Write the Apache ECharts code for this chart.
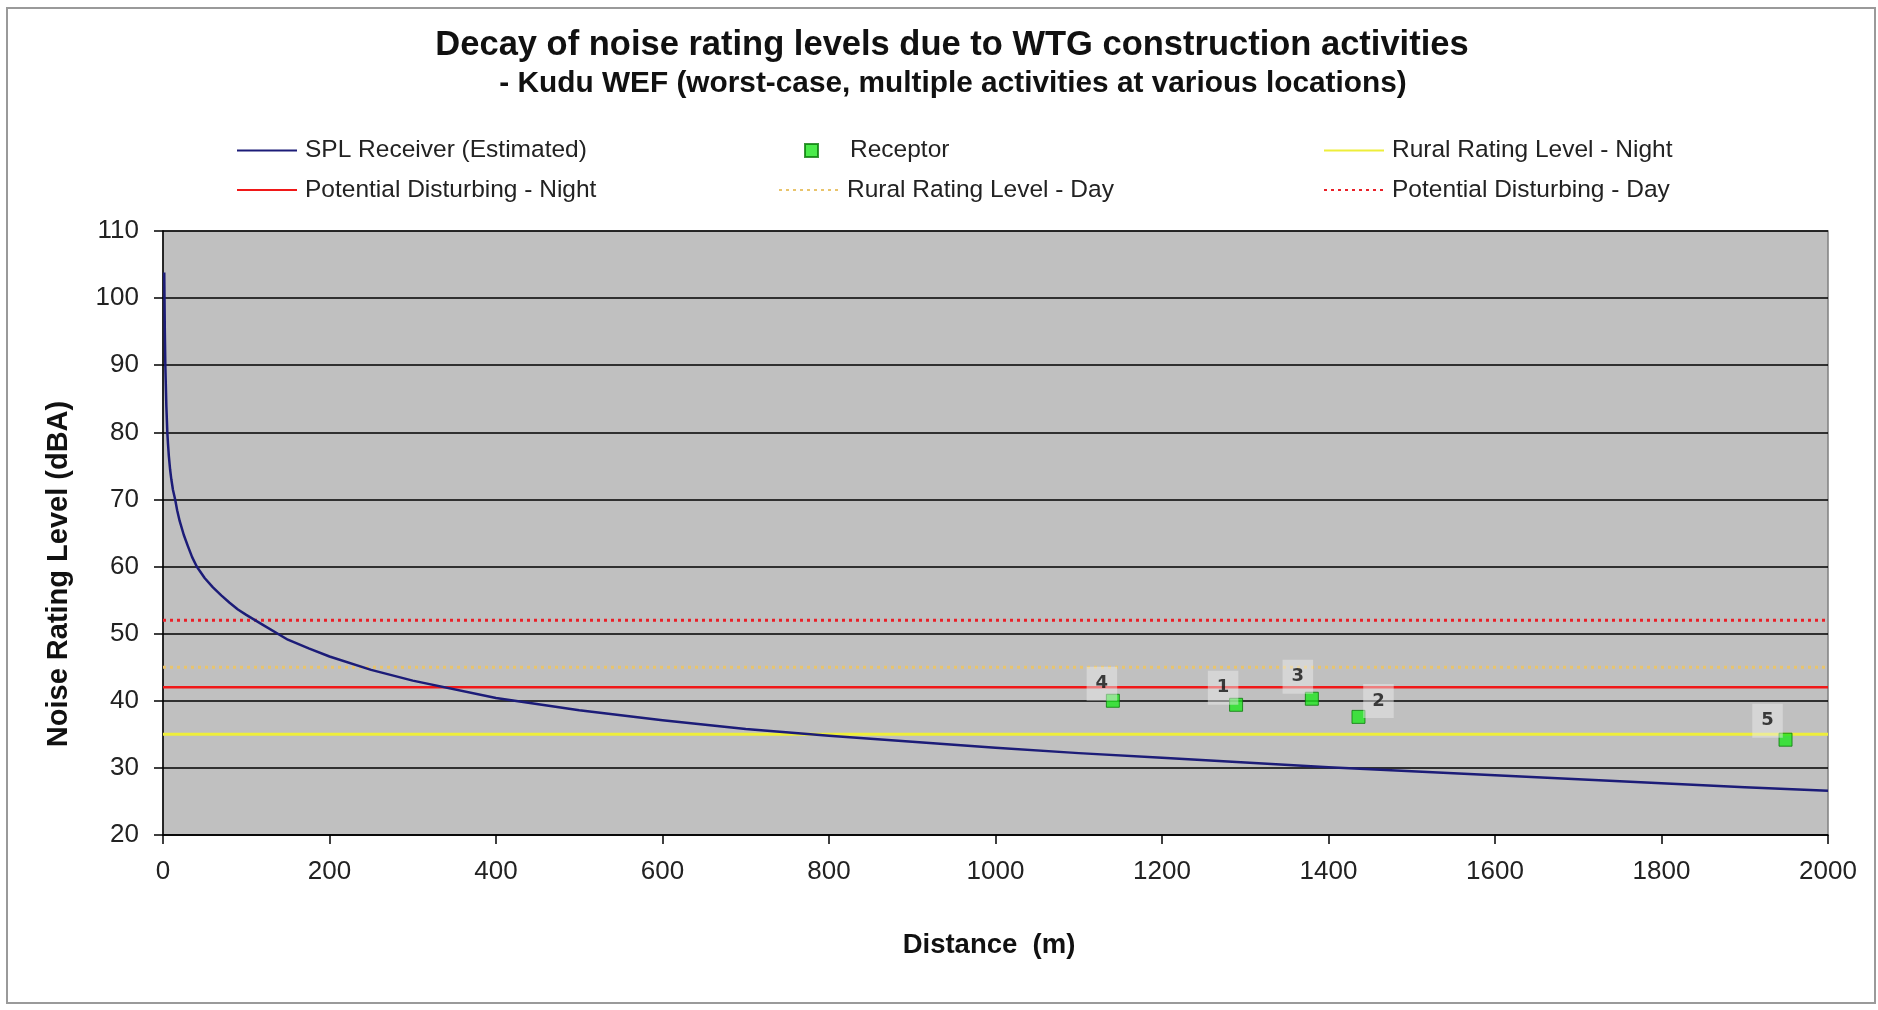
<!DOCTYPE html>
<html>
<head>
<meta charset="utf-8">
<title>Decay of noise rating levels due to WTG construction activities</title>
<script src="https://cdn.jsdelivr.net/npm/echarts@6/dist/echarts.min.js"></script>
<style>
  html, body { margin: 0; padding: 0; background: #ffffff; }
  #chart { width: 1878px; height: 1010px; }
</style>
</head>
<body>
<div id="chart"></div>
<script>
// Estimated sound pressure level at the receiver versus distance from the works
const splDistance = [1.5, 1.8, 2.2, 2.8, 3.4, 4, 5.2, 6, 7, 8.5, 10, 12, 14.6, 17, 20, 25, 30, 35, 40.5, 50, 60, 70, 80, 90, 100, 120, 150, 175, 200, 250, 300, 400, 500, 600, 700, 800, 900, 1000, 1100, 1200, 1300, 1400, 1500, 1600, 1700, 1800, 1900, 2000];
const splLevel    = [103.8, 100, 95, 90, 87, 84, 80, 78.3, 76.5, 74.5, 73, 71.4, 70, 68.4, 66.8, 64.7, 63.0, 61.4, 60.0, 58.3, 56.9, 55.7, 54.6, 53.6, 52.8, 51.3, 49.1, 47.8, 46.6, 44.6, 43.0, 40.4, 38.6, 37.1, 35.8, 34.8, 33.9, 33.0, 32.2, 31.5, 30.8, 30.1, 29.5, 28.9, 28.3, 27.7, 27.1, 26.6];

// Receptors (noise-sensitive dwellings)
const receptorIds      = ['4', '1', '3', '2', '5'];
const receptorDistance = [1141, 1289, 1380, 1436, 1949];
const receptorLevel    = [40.0, 39.4, 40.3, 37.6, 34.2];
// where each receptor's number sits relative to its marker (px)
const receptorLabelOffset = [[-11, -17], [-13, -17], [-14, -22], [20, -16], [-18, -19]];

// Rating levels (dBA)
const ruralNight   = 35;
const ruralDay     = 45;
const disturbNight = 42;
const disturbDay   = 52;

// Axis extents and ticks
const distanceRange = [0, 2000];
const distanceStep  = 200;
const levelRange    = [20, 110];
const levelStep     = 10;

const FONT = "'Liberation Sans', Arial, sans-serif";

function levelLine(v) {
  return [[distanceRange[0], v], [distanceRange[1], v]];
}

const names = {
  spl: 'SPL Receiver (Estimated)',
  rec: 'Receptor',
  rn: 'Rural Rating Level - Night',
  dn: 'Potential Disturbing - Night',
  rd: 'Rural Rating Level - Day',
  dd: 'Potential Disturbing - Day'
};

const chart = echarts.init(document.getElementById('chart'), null, { renderer: 'canvas' });

const legendText = { fontFamily: FONT, fontSize: 24.5, color: '#222', lineHeight: 25, padding: [0, 0, 0, 3] };

function legendAt(name, left, top, opts) {
  return Object.assign({
    data: [name],
    left: left,
    top: top,
    orient: 'horizontal',
    padding: 0,
    itemWidth: 60,
    itemHeight: 14,
    selectedMode: false,
    // line entries show only the stroke, no point marker
    itemStyle: { opacity: 0 },
    textStyle: legendText
  }, opts || {});
}

const option = {
  backgroundColor: '#ffffff',
  animation: false,
  title: [
    {
      text: 'Decay of noise rating levels due to WTG construction activities',
      left: 952, textAlign: 'center', top: 28, padding: 0,
      textStyle: { fontFamily: FONT, fontSize: 34.5, fontWeight: 'bold', color: '#111' }
    },
    {
      text: '- Kudu WEF (worst-case, multiple activities at various locations)',
      left: 953, textAlign: 'center', top: 69, padding: 0,
      textStyle: { fontFamily: FONT, fontSize: 29.8, fontWeight: 'bold', color: '#111' }
    }
  ],
  legend: [
    legendAt(names.spl, 236, 138),
    legendAt(names.dn, 236, 177.5),
    legendAt(names.rec, 804, 138, { itemWidth: 13, itemHeight: 13, itemStyle: {},
      textStyle: Object.assign({}, legendText, { padding: [0, 0, 0, 27] }) }),
    legendAt(names.rd, 778, 177.5),
    legendAt(names.rn, 1323, 138),
    legendAt(names.dd, 1323, 177.5)
  ],
  grid: {
    left: 163, right: 50, top: 231, bottom: 175,
    show: true, backgroundColor: '#C0C0C0', borderColor: '#808080', borderWidth: 1.5
  },
  xAxis: {
    type: 'value',
    min: distanceRange[0], max: distanceRange[1], interval: distanceStep,
    name: 'Distance  (m)', nameLocation: 'middle', nameGap: 96,
    nameTextStyle: { fontFamily: FONT, fontSize: 27.5, fontWeight: 'bold', color: '#111', padding: [0, 13, 0, 0] },
    axisLine: { show: true, onZero: false, lineStyle: { color: '#000', width: 1.5 } },
    axisTick: { show: true, length: 9, lineStyle: { color: '#000', width: 1.5 } },
    axisLabel: { fontFamily: FONT, fontSize: 26, color: '#222', margin: 24, formatter: v => String(v) },
    splitLine: { show: false }
  },
  yAxis: {
    type: 'value',
    min: levelRange[0], max: levelRange[1], interval: levelStep,
    name: 'Noise Rating Level (dBA)', nameLocation: 'middle', nameGap: 90, nameRotate: 90,
    nameTextStyle: { fontFamily: FONT, fontSize: 29, fontWeight: 'bold', color: '#111', padding: [0, 82, 0, 0] },
    axisLine: { show: true, onZero: false, lineStyle: { color: '#000', width: 1.5 } },
    axisTick: { show: true, length: 9, lineStyle: { color: '#000', width: 1.5 } },
    axisLabel: { fontFamily: FONT, fontSize: 26, color: '#222', margin: 24, formatter: v => String(v) },
    splitLine: { show: true, lineStyle: { color: '#000', width: 1.5 } }
  },
  series: [
    {
      name: names.rn, type: 'line', symbol: 'none', silent: true, z: 2,
      data: levelLine(ruralNight),
      lineStyle: { color: '#EEEE3A', width: 3 }, itemStyle: { color: '#EEEE3A' }
    },
    {
      name: names.dn, type: 'line', symbol: 'none', silent: true, z: 2,
      data: levelLine(disturbNight),
      lineStyle: { color: '#F01818', width: 2.5 }, itemStyle: { color: '#F01818' }
    },
    {
      name: names.rd, type: 'line', symbol: 'none', silent: true, z: 2,
      data: levelLine(ruralDay),
      lineStyle: { color: '#E9C46C', width: 3, type: [3, 4] }, itemStyle: { color: '#E9C46C' }
    },
    {
      name: names.dd, type: 'line', symbol: 'none', silent: true, z: 2,
      data: levelLine(disturbDay),
      lineStyle: { color: '#EA2028', width: 3, type: [3, 4] }, itemStyle: { color: '#EA2028' }
    },
    {
      name: names.spl, type: 'line', symbol: 'none', z: 3,
      smooth: false,
      data: splDistance.map((d, i) => [d, splLevel[i]]),
      lineStyle: { color: '#1C1C78', width: 2.5, join: 'round' }, itemStyle: { color: '#1C1C78' }
    },
    {
      name: names.rec, type: 'scatter', symbol: 'rect', symbolSize: 13, z: 4,
      itemStyle: { color: '#1EE61E', borderColor: '#0A7A0A', borderWidth: 1 },
      label: {
        show: true, position: 'inside', formatter: '{b}',
        fontFamily: "'DejaVu Sans', Verdana, sans-serif", fontSize: 18, fontWeight: 'bold', color: '#111',
        backgroundColor: 'rgba(236,236,236,0.6)', padding: [8, 9]
      },
      data: receptorIds.map((id, i) => ({
        name: id,
        value: [receptorDistance[i], receptorLevel[i]],
        label: { offset: receptorLabelOffset[i] }
      }))
    }
  ],
  graphic: [
    {
      type: 'rect', silent: true, z: -1,
      shape: { x: 7, y: 8, width: 1868, height: 995 },
      style: { fill: null, stroke: '#9a9a9a', lineWidth: 2 }
    }
  ]
};

chart.setOption(option);
</script>
</body>
</html>
